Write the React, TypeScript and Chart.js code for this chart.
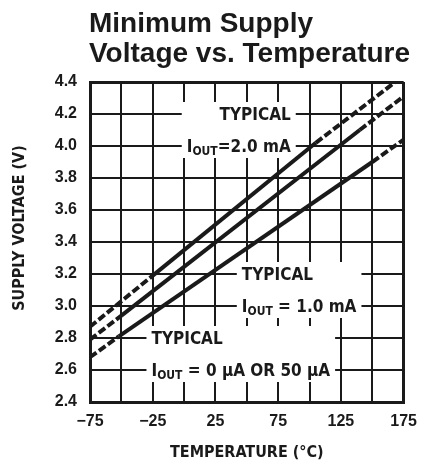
import React, { useEffect, useRef } from "react";
import { Chart, registerables } from "chart.js";

Chart.register(...registerables);

// ---------- data ----------
const TITLE_LINES = ["Minimum Supply", "Voltage vs. Temperature"];
const X_LABEL = "TEMPERATURE (°C)";
const Y_LABEL = "SUPPLY VOLTAGE (V)";
const X_TICK_LABELS = [-75, -25, 25, 75, 125, 175];

// IOUT = 2.0 mA (top curve)
const T_2MA = [-75, -25, 105, 175];
const V_2MA = [2.87, 3.19, 4.02, 4.44];
// IOUT = 1.0 mA (middle curve)
const T_1MA = [-75, -50, 140, 175];
const V_1MA = [2.79, 2.94, 4.1, 4.31];
// IOUT = 0 µA or 50 µA (bottom curve)
const T_0UA = [-75, -52, 150, 175];
const V_0UA = [2.68, 2.81, 3.9, 4.04];

// curve annotations: [text, subscript]
const LABEL_2MA = [[["TYPICAL", false]], [["I", false], ["OUT", true], ["=2.0 mA", false]]];
const LABEL_1MA = [[["TYPICAL", false]], [["I", false], ["OUT", true], [" = 1.0 mA", false]]];
const LABEL_0UA = [[["TYPICAL", false]], [["I", false], ["OUT", true], [" = 0 µA OR 50 µA", false]]];

// ---------- styles ----------
const INK = "#1a1a1a";
const NARROW = '"Liberation Sans Narrow", "Arial Narrow", "DejaVu Sans Condensed", sans-serif';
const SANS = '"Liberation Sans", Arial, Helvetica, sans-serif';
const DASH = [8, 3];

const ANNOTATIONS = [
  { parts: LABEL_2MA, x: 85, ys: [4.2, 4.0], align: "right" },
  { parts: LABEL_1MA, x: 46, ys: [3.2, 3.0], align: "left" },
  { parts: LABEL_0UA, x: -26, ys: [2.8, 2.6], align: "left" },
];

function toPoints(ts: number[], vs: number[]) {
  return ts.map((t, i) => ({ x: t, y: vs[i] }));
}

function curve(ts: number[], vs: number[]) {
  return {
    data: toPoints(ts, vs),
    borderColor: INK,
    borderWidth: 4,
    pointRadius: 0,
    borderDash: [],
    tension: 0,
    clip: 0,
    segment: {
      borderDash: (c: any) => (c.p0DataIndex === 1 ? [] : DASH),
    },
  };
}

const LABEL_SIZE = 17;

function partFont(sub: boolean) {
  return `bold ${sub ? Math.round(LABEL_SIZE * 0.72) : LABEL_SIZE}px ${NARROW}`;
}

function measureParts(ctx: CanvasRenderingContext2D, parts: any[]) {
  let w = 0;
  for (const [t, sub] of parts) {
    ctx.font = partFont(sub);
    w += ctx.measureText(t).width;
  }
  return w;
}

const annotationPlugin = {
  id: "curveAnnotations",
  beforeDatasetsDraw(chart: any) {
    const { ctx, scales } = chart;
    const xs = scales.x;
    const ysc = scales.y;
    ctx.save();
    for (const a of ANNOTATIONS) {
      const widths = a.parts.map((p: any) => measureParts(ctx, p));
      const maxW = Math.max(...widths);
      const px = xs.getPixelForValue(a.x);
      const py = a.ys.map((v: number) => ysc.getPixelForValue(v));
      const left = a.align === "right" ? px - maxW : px;
      ctx.fillStyle = "#ffffff";
      ctx.fillRect(left - 5, py[0] - 12, maxW + 10, py[py.length - 1] - py[0] + 24);
      ctx.fillStyle = INK;
      ctx.textBaseline = "alphabetic";
      ctx.textAlign = "left";
      a.parts.forEach((line: any, i: number) => {
        let cx = a.align === "right" ? px - widths[i] : px;
        const base = py[i] + LABEL_SIZE * 0.36;
        for (const [t, sub] of line) {
          ctx.font = partFont(sub);
          ctx.fillText(t, cx, sub ? base + 3 : base);
          cx += ctx.measureText(t).width;
        }
      });
    }
    ctx.restore();
  },
};

const titlePlugin = {
  id: "leftTitle",
  beforeDraw(chart: any) {
    const { ctx, width, height } = chart;
    ctx.save();
    ctx.fillStyle = "#ffffff";
    ctx.fillRect(0, 0, width, height);
    ctx.restore();
  },
  afterDraw(chart: any) {
    const { ctx, chartArea } = chart;
    ctx.save();
    ctx.fillStyle = INK;
    ctx.font = `bold 28px ${SANS}`;
    ctx.textAlign = "left";
    ctx.textBaseline = "alphabetic";
    ctx.fillText(TITLE_LINES[0], chartArea.left - 1, 32);
    ctx.fillText(TITLE_LINES[1], chartArea.left - 1, 62);
    // y-axis title
    ctx.translate(20, 228);
    ctx.rotate(-Math.PI / 2);
    ctx.font = `bold 16px ${NARROW}`;
    ctx.textAlign = "center";
    ctx.textBaseline = "middle";
    ctx.fillText(Y_LABEL, 0, 0);
    ctx.restore();
  },
};

function fmtX(v: number) {
  if (!X_TICK_LABELS.includes(v)) return "";
  return v < 0 ? "\u2212" + Math.abs(v) : String(v);
}

export default function App() {
  const ref = useRef<HTMLCanvasElement>(null);
  useEffect(() => {
    if (!ref.current) return;
    const chart = new Chart(ref.current, {
      type: "line",
      data: {
        datasets: [curve(T_2MA, V_2MA), curve(T_1MA, V_1MA), curve(T_0UA, V_0UA)] as any,
      },
      plugins: [titlePlugin, annotationPlugin],
      options: {
        animation: false,
        responsive: false,
        layout: { padding: { left: 0, right: 17, top: 82, bottom: 0 } },
        plugins: { legend: { display: false }, tooltip: { enabled: false }, title: { display: false } },
        scales: {
          x: {
            type: "linear",
            min: -75,
            max: 175,
            afterFit: (s: any) => {
              s.height = 70;
            },
            border: { display: true, color: INK, width: 3 },
            grid: {
              color: INK,
              lineWidth: (c: any) => (c.tick && (c.tick.value === 175 || c.tick.value === -75) ? 3 : 2),
              drawTicks: false,
            },
            ticks: {
              stepSize: 25,
              autoSkip: false,
              maxRotation: 0,
              padding: 10,
              color: INK,
              font: { family: SANS, weight: "bold", size: 16 },
              callback: (v: any) => fmtX(Number(v)),
            },
            title: {
              display: true,
              text: X_LABEL,
              color: INK,
              font: { family: NARROW, weight: "bold", size: 16 },
              padding: { top: 0, bottom: 10 },
            },
          },
          y: {
            type: "linear",
            min: 2.4,
            max: 4.4,
            afterFit: (s: any) => {
              s.width = 90;
            },
            border: { display: true, color: INK, width: 3 },
            grid: {
              color: INK,
              lineWidth: (c: any) => (c.tick && (Math.abs(c.tick.value - 4.4) < 1e-6 || Math.abs(c.tick.value - 2.4) < 1e-6) ? 3 : 2),
              drawTicks: false,
            },
            ticks: {
              stepSize: 0.2,
              padding: 13,
              color: INK,
              font: { family: SANS, weight: "bold", size: 16 },
              callback: (v: any) => Number(v).toFixed(1),
            },
            title: { display: false },
          },
        },
      } as any,
    });
    return () => chart.destroy();
  }, []);
  return (
    <div style={{ position: "fixed", left: 0, top: 0, width: 427, height: 472, background: "#fff" }}>
      <canvas ref={ref} width={427} height={472} style={{ display: "block" }} />
    </div>
  );
}
